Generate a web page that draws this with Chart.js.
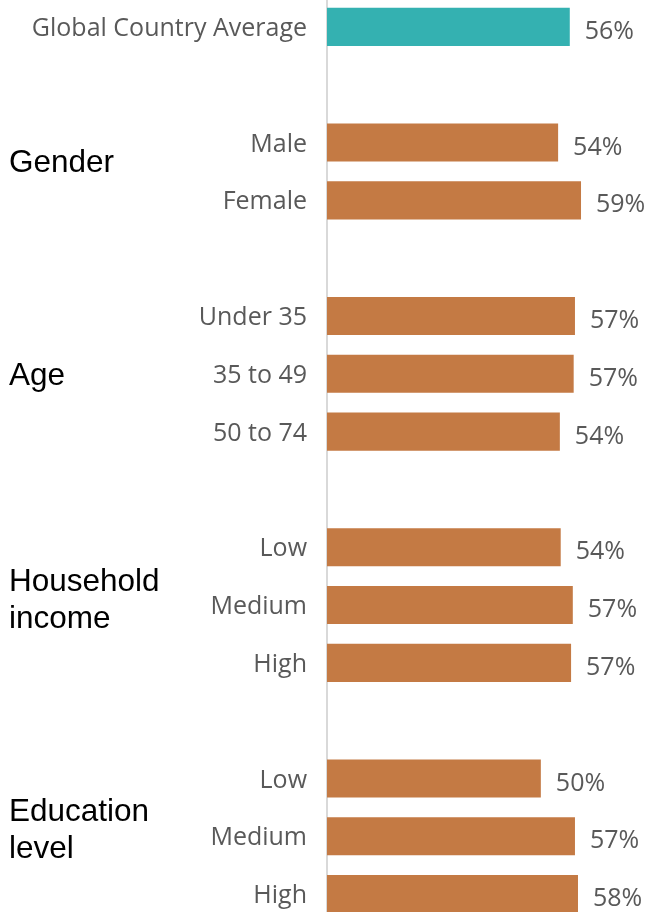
<!DOCTYPE html>
<html>
<head>
<meta charset="utf-8">
<script src="https://cdn.jsdelivr.net/npm/chart.js@4"></script>
<style>
  html, body { margin: 0; padding: 0; background: #fff; overflow: hidden; }
  #wrap { position: absolute; left: 0; top: -2px; width: 651px; height: 925px; }
</style>
</head>
<body>
<div id="wrap"><canvas id="chart"></canvas></div>
<script>
// rows, blank strings are the gaps between groups
const rowLabels = ['Global Country Average', '', 'Male', 'Female', '', 'Under 35', '35 to 49', '50 to 74', '',
  'Low', 'Medium', 'High', '', 'Low', 'Medium', 'High']
const rowValues = [56.2, null, 53.5, 58.8, null, 57.4, 57.1, 53.9, null, 54.1, 56.9, 56.5, null, 49.5, 57.4, 58.1]
const groupNames = [['Gender'], ['Age'], ['Household', 'income'], ['Education', 'level']]
const groupAnchors = [2.3, 6, 9.88, 13.86]

const teal = '#34B1B1'
const orange = '#C47A44'
const grey = '#595959'

const labelsPlugin = {
  id: 'labels',
  afterDatasetsDraw (chart) {
    const ctx = chart.ctx
    const meta = chart.getDatasetMeta(0)
    ctx.save()
    ctx.font = '25px "Open Sans"'
    ctx.fillStyle = grey
    ctx.textAlign = 'left'
    ctx.textBaseline = 'middle'
    meta.data.forEach((bar, i) => {
      const v = rowValues[i]
      if (v == null) return
      ctx.fillText(Math.round(v) + '%', bar.x + 15, bar.y + 5)
    })
    // group titles on the left
    const y = chart.scales.y
    ctx.font = '31.5px "Liberation Sans"'
    ctx.fillStyle = '#000'
    groupNames.forEach((lines, g) => {
      const cy = y.getPixelForDecimal((groupAnchors[g] + 0.5) / rowLabels.length) + 3
      const lh = 37
      lines.forEach((t, k) => {
        ctx.fillText(t, 9, cy + (k - (lines.length - 1) / 2) * lh)
      })
    })
    ctx.restore()
  }
}

const chart = new Chart(
  document.getElementById('chart').getContext('2d'),
  {
    type: 'bar',
    data: {
      labels: rowLabels,
      datasets: [
        {
          data: rowValues,
          backgroundColor: rowValues.map((v, i) => i === 0 ? teal : orange),
          barPercentage: 0.66,
          categoryPercentage: 1
        }
      ]
    },
    options: {
      indexAxis: 'y',
      responsive: true,
      maintainAspectRatio: false,
      animation: false,
      layout: { padding: 0 },
      scales: {
        x: {
          display: false,
          min: 0,
          max: 75
        },
        y: {
          grid: { display: false, drawTicks: false },
          border: { display: true, color: '#D9D9D9', width: 2 },
          ticks: {
            padding: 20,
            labelOffset: 2,
            color: grey,
            font: { family: 'Open Sans', size: 25 }
          },
          afterFit: function (scale) {
            scale.width = 327
            scale.paddingTop = 0
            scale.paddingBottom = 0
          }
        }
      },
      plugins: {
        legend: { display: false },
        tooltip: { enabled: false }
      }
    },
    plugins: [labelsPlugin]
  }
)
</script>
</body>
</html>
